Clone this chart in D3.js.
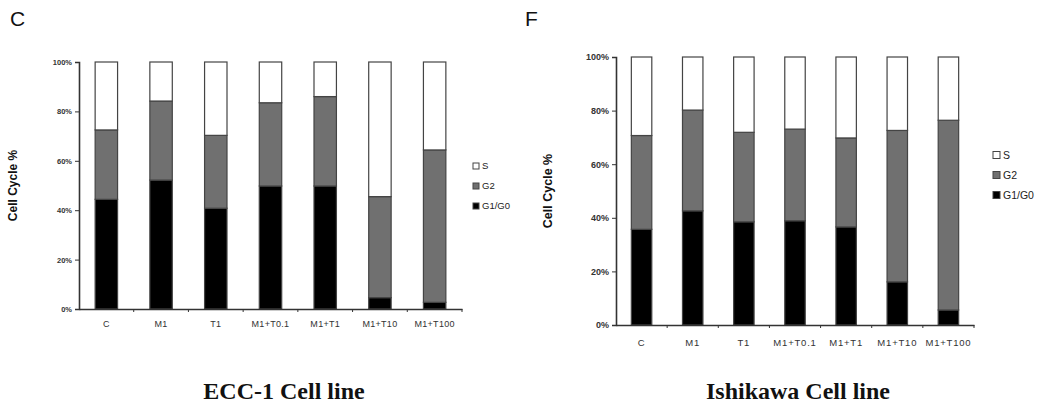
<!DOCTYPE html>
<html>
<head>
<meta charset="utf-8">
<script src="https://cdn.jsdelivr.net/npm/d3@7"></script>
<style>
  body { margin: 0; background: #fff; }
  svg { display: block; }
  .tick text { fill: #333; font-family: Arial, "Liberation Sans", sans-serif; }
</style>
</head>
<body>
<div id="chart"></div>
<script>
// Categories (treatments) shared by both panels
const treatments = ["C", "M1", "T1", "M1+T0.1", "M1+T1", "M1+T10", "M1+T100"];
const phases = ["G1/G0", "G2", "S"];
const yTicks = [0, 0.2, 0.4, 0.6, 0.8, 1.0];

// ECC-1 cell line, fraction of cells in each phase
const ecc1G1 = [0.444, 0.522, 0.408, 0.498, 0.498, 0.046, 0.027];
const ecc1G2 = [0.281, 0.320, 0.295, 0.337, 0.362, 0.409, 0.617];
const ecc1S  = [0.275, 0.158, 0.297, 0.165, 0.140, 0.545, 0.356];

// Ishikawa cell line
const ishG1 = [0.357, 0.426, 0.385, 0.389, 0.366, 0.161, 0.056];
const ishG2 = [0.350, 0.376, 0.334, 0.342, 0.332, 0.565, 0.708];
const ishS  = [0.293, 0.198, 0.281, 0.269, 0.302, 0.274, 0.236];

const colors = {"G1/G0": "#000000", "G2": "#707070", "S": "#ffffff"};

const svg = d3.select("#chart")
  .append("svg")
    .attr("width", 1050)
    .attr("height", 407);

const buildRows = (g1, g2, s) => treatments.map((t, i) => ({
  treatment: t, "G1/G0": g1[i], "G2": g2[i], "S": s[i]
}));

const drawPanel = (rows, opt) => {
  const g = svg.append("g");

  const xScale = d3.scaleBand()
    .domain(treatments)
    .range([opt.x0, opt.x1])
    .paddingInner(opt.pad)
    .paddingOuter(opt.pad / 2);

  const yScale = d3.scaleLinear()
    .domain([0, 1])
    .range([opt.y0, opt.y1]);

  const stacked = d3.stack().keys(phases)(rows);

  // stacked bars
  g.append("g")
    .selectAll("g")
    .data(stacked)
    .join("g")
      .attr("fill", d => colors[d.key])
    .selectAll("rect")
    .data(d => d)
    .join("rect")
      .attr("x", d => xScale(d.data.treatment))
      .attr("y", d => yScale(d[1]))
      .attr("width", xScale.bandwidth())
      .attr("height", d => yScale(d[0]) - yScale(d[1]))
      .attr("stroke", "#444")
      .attr("stroke-width", 1.2);

  // y axis
  const yAxis = g.append("g")
    .attr("transform", `translate(${opt.x0},0)`)
    .call(d3.axisLeft(yScale).tickValues(yTicks).tickFormat(d3.format(".0%")).tickSize(4).tickPadding(3));
  yAxis.selectAll("text").style("font-size", opt.tickFont + "px").style("font-weight", "bold");

  // x axis: ticks sit between the bars
  const xAxis = g.append("g")
    .attr("transform", `translate(0,${opt.y0})`)
    .call(d3.axisBottom(xScale).tickSize(0).tickPadding(opt.xPad));
  xAxis.selectAll("text").style("font-size", opt.xFont + "px").style("letter-spacing", opt.spacing + "px");
  xAxis.selectAll(".sep")
    .data(d3.range(1, treatments.length + 1))
    .join("line")
      .attr("class", "sep")
      .attr("x1", i => opt.x0 + i * xScale.step())
      .attr("x2", i => opt.x0 + i * xScale.step())
      .attr("y1", 0).attr("y2", 3)
      .attr("stroke", "#333");

  g.selectAll(".domain").attr("stroke", "#333").attr("stroke-width", 1.6);
  g.selectAll(".tick line").attr("stroke", "#333");

  // y axis title
  svg.append("text")
    .attr("transform", `translate(${opt.yLabelX},${(opt.y0 + opt.y1) / 2}) rotate(-90)`)
    .attr("text-anchor", "middle")
    .attr("font-family", "Arial, 'Liberation Sans', sans-serif")
    .attr("font-weight", "bold")
    .attr("font-size", opt.yLabelFont)
    .attr("fill", "#111")
    .text("Cell Cycle %");

  // legend, S on top
  const leg = svg.append("g")
    .selectAll("g")
    .data(phases.slice().reverse())
    .join("g")
      .attr("transform", (d, i) => `translate(${opt.legX},${opt.legY + i * opt.legStep})`);
  leg.append("rect")
    .attr("x", 0).attr("y", -opt.sw / 2)
    .attr("width", opt.sw).attr("height", opt.sw)
    .attr("fill", d => colors[d])
    .attr("stroke", "#444");
  leg.append("text")
    .attr("x", opt.sw + 3)
    .attr("dy", "0.35em")
    .attr("font-family", "Arial, 'Liberation Sans', sans-serif")
    .attr("font-size", opt.legFont)
    .attr("fill", "#222")
    .text(d => d);

  // panel letter
  svg.append("text")
    .attr("x", opt.letterX).attr("y", 26)
    .attr("font-family", "Arial, 'Liberation Sans', sans-serif")
    .attr("font-size", 21)
    .attr("fill", "#111")
    .text(opt.letter);

  // cell line title
  svg.append("text")
    .attr("x", opt.titleX).attr("y", 399)
    .attr("text-anchor", "middle")
    .attr("font-family", "'Liberation Serif', 'Times New Roman', serif")
    .attr("font-weight", "bold")
    .attr("font-size", 24)
    .attr("fill", "#111")
    .text(opt.title);
};

drawPanel(buildRows(ecc1G1, ecc1G2, ecc1S), {
  x0: 79, x1: 462, y0: 309, y1: 62, pad: 0.59,
  tickFont: 7.5, xFont: 9, xPad: 12, spacing: 0.3,
  yLabelX: 17, yLabelFont: 12,
  legX: 473, legY: 166, legStep: 20, sw: 6, legFont: 9.5,
  letter: "C", letterX: 10, title: "ECC-1 Cell line", titleX: 284
});

drawPanel(buildRows(ishG1, ishG2, ishS), {
  x0: 616, x1: 974, y0: 325, y1: 57, pad: 0.6,
  tickFont: 9, xFont: 9.5, xPad: 14, spacing: 0.8,
  yLabelX: 552, yLabelFont: 12.5,
  legX: 993, legY: 155, legStep: 20, sw: 7, legFont: 10.5,
  letter: "F", letterX: 525, title: "Ishikawa Cell line", titleX: 798
});
</script>
</body>
</html>
